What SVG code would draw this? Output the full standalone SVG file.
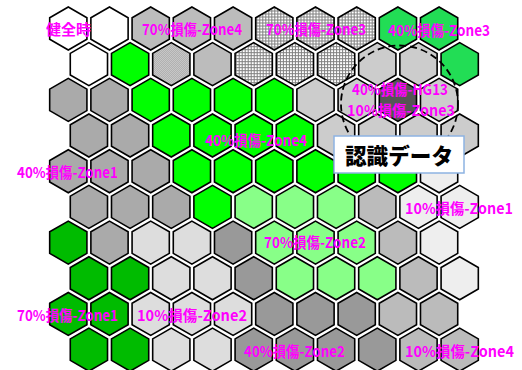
<svg xmlns="http://www.w3.org/2000/svg" xmlns:xlink="http://www.w3.org/1999/xlink" width="522" height="370" viewBox="0 0 522 370">
<style>
.h{stroke:#000;stroke-width:1.6;stroke-linejoin:miter}
.w{fill:#fff}.g{fill:#00ff00}.mg{fill:#22dd55}.dg{fill:#00bb00}.lg{fill:#88ff88}
.a{fill:#aaaaaa}.c{fill:#cccccc}.d{fill:#dddddd}.n{fill:#999999}.b{fill:#bbbbbb}.e{fill:#eeeeee}.k{fill:#555555}
.ck{fill:url(#chk)}.gr{fill:url(#grd)}
.lb{font-family:"Noto Sans CJK JP","DejaVu Sans",sans-serif;font-weight:bold;font-size:15px;fill:#ff00ff}
.big{font-family:"Noto Sans CJK JP","DejaVu Sans",sans-serif;font-weight:900;font-size:22px;fill:#000}
</style>
<defs>
<polygon id="hx" points="0,-21.5 18.62,-10.75 18.62,10.75 0,21.5 -18.62,10.75 -18.62,-10.75"/>
<pattern id="chk" width="2" height="2" patternUnits="userSpaceOnUse"><rect width="2" height="2" fill="#e8e8e8"/><rect width="1" height="1" fill="#909090"/><rect x="1" y="1" width="1" height="1" fill="#909090"/></pattern>
<pattern id="grd" width="3" height="3" patternUnits="userSpaceOnUse"><rect width="3" height="3" fill="#ffffff"/><path d="M0 0.5H3M0.5 0V3" stroke="#808080" stroke-width="1"/></pattern>
</defs>
<rect width="522" height="370" fill="#fff"/>
<g id="hexes">
<g id="row0">
<use href="#hx" x="68.3" y="28.5" class="h w"/><use href="#hx" x="109.5" y="28.5" class="h w"/><use href="#hx" x="150.7" y="28.5" class="h ck"/><use href="#hx" x="191.9" y="28.5" class="h ck"/><use href="#hx" x="233.1" y="28.5" class="h ck"/><use href="#hx" x="274.3" y="28.5" class="h gr"/><use href="#hx" x="315.5" y="28.5" class="h gr"/><use href="#hx" x="356.7" y="28.5" class="h gr"/><use href="#hx" x="397.9" y="28.5" class="h mg"/><use href="#hx" x="439.1" y="28.5" class="h mg"/>
</g>
<g id="row1">
<use href="#hx" x="88.9" y="64.18" class="h w"/><use href="#hx" x="130.1" y="64.18" class="h g"/><use href="#hx" x="171.3" y="64.18" class="h ck"/><use href="#hx" x="212.5" y="64.18" class="h ck"/><use href="#hx" x="253.7" y="64.18" class="h gr"/><use href="#hx" x="294.9" y="64.18" class="h gr"/><use href="#hx" x="336.1" y="64.18" class="h gr"/><use href="#hx" x="377.3" y="64.18" class="h c"/><use href="#hx" x="418.5" y="64.18" class="h c"/><use href="#hx" x="459.7" y="64.18" class="h mg"/>
</g>
<g id="row2">
<use href="#hx" x="68.3" y="99.86" class="h a"/><use href="#hx" x="109.5" y="99.86" class="h a"/><use href="#hx" x="150.7" y="99.86" class="h g"/><use href="#hx" x="191.9" y="99.86" class="h g"/><use href="#hx" x="233.1" y="99.86" class="h g"/><use href="#hx" x="274.3" y="99.86" class="h g"/><use href="#hx" x="315.5" y="99.86" class="h c"/><use href="#hx" x="356.7" y="99.86" class="h c"/><use href="#hx" x="397.9" y="99.86" class="h k"/><use href="#hx" x="439.1" y="99.86" class="h c"/>
</g>
<g id="row3">
<use href="#hx" x="88.9" y="135.54" class="h a"/><use href="#hx" x="130.1" y="135.54" class="h a"/><use href="#hx" x="171.3" y="135.54" class="h g"/><use href="#hx" x="212.5" y="135.54" class="h g"/><use href="#hx" x="253.7" y="135.54" class="h g"/><use href="#hx" x="294.9" y="135.54" class="h g"/><use href="#hx" x="336.1" y="135.54" class="h c"/><use href="#hx" x="377.3" y="135.54" class="h c"/><use href="#hx" x="418.5" y="135.54" class="h c"/><use href="#hx" x="459.7" y="135.54" class="h c"/>
</g>
<g id="row4">
<use href="#hx" x="68.3" y="171.22" class="h a"/><use href="#hx" x="109.5" y="171.22" class="h a"/><use href="#hx" x="150.7" y="171.22" class="h a"/><use href="#hx" x="191.9" y="171.22" class="h g"/><use href="#hx" x="233.1" y="171.22" class="h g"/><use href="#hx" x="274.3" y="171.22" class="h g"/><use href="#hx" x="315.5" y="171.22" class="h g"/><use href="#hx" x="356.7" y="171.22" class="h g"/><use href="#hx" x="397.9" y="171.22" class="h g"/><use href="#hx" x="439.1" y="171.22" class="h e"/>
</g>
<g id="row5">
<use href="#hx" x="88.9" y="206.9" class="h a"/><use href="#hx" x="130.1" y="206.9" class="h a"/><use href="#hx" x="171.3" y="206.9" class="h a"/><use href="#hx" x="212.5" y="206.9" class="h g"/><use href="#hx" x="253.7" y="206.9" class="h lg"/><use href="#hx" x="294.9" y="206.9" class="h lg"/><use href="#hx" x="336.1" y="206.9" class="h lg"/><use href="#hx" x="377.3" y="206.9" class="h b"/><use href="#hx" x="418.5" y="206.9" class="h e"/><use href="#hx" x="459.7" y="206.9" class="h e"/>
</g>
<g id="row6">
<use href="#hx" x="68.3" y="242.58" class="h dg"/><use href="#hx" x="109.5" y="242.58" class="h a"/><use href="#hx" x="150.7" y="242.58" class="h d"/><use href="#hx" x="191.9" y="242.58" class="h d"/><use href="#hx" x="233.1" y="242.58" class="h n"/><use href="#hx" x="274.3" y="242.58" class="h lg"/><use href="#hx" x="315.5" y="242.58" class="h lg"/><use href="#hx" x="356.7" y="242.58" class="h lg"/><use href="#hx" x="397.9" y="242.58" class="h b"/><use href="#hx" x="439.1" y="242.58" class="h e"/>
</g>
<g id="row7">
<use href="#hx" x="88.9" y="278.26" class="h dg"/><use href="#hx" x="130.1" y="278.26" class="h dg"/><use href="#hx" x="171.3" y="278.26" class="h d"/><use href="#hx" x="212.5" y="278.26" class="h d"/><use href="#hx" x="253.7" y="278.26" class="h n"/><use href="#hx" x="294.9" y="278.26" class="h lg"/><use href="#hx" x="336.1" y="278.26" class="h lg"/><use href="#hx" x="377.3" y="278.26" class="h lg"/><use href="#hx" x="418.5" y="278.26" class="h b"/><use href="#hx" x="459.7" y="278.26" class="h e"/>
</g>
<g id="row8">
<use href="#hx" x="68.3" y="313.94" class="h dg"/><use href="#hx" x="109.5" y="313.94" class="h dg"/><use href="#hx" x="150.7" y="313.94" class="h d"/><use href="#hx" x="191.9" y="313.94" class="h d"/><use href="#hx" x="233.1" y="313.94" class="h d"/><use href="#hx" x="274.3" y="313.94" class="h n"/><use href="#hx" x="315.5" y="313.94" class="h n"/><use href="#hx" x="356.7" y="313.94" class="h n"/><use href="#hx" x="397.9" y="313.94" class="h b"/><use href="#hx" x="439.1" y="313.94" class="h b"/>
</g>
<g id="row9">
<use href="#hx" x="88.9" y="349.62" class="h dg"/><use href="#hx" x="130.1" y="349.62" class="h dg"/><use href="#hx" x="171.3" y="349.62" class="h d"/><use href="#hx" x="212.5" y="349.62" class="h d"/><use href="#hx" x="253.7" y="349.62" class="h n"/><use href="#hx" x="294.9" y="349.62" class="h n"/><use href="#hx" x="336.1" y="349.62" class="h n"/><use href="#hx" x="377.3" y="349.62" class="h n"/><use href="#hx" x="418.5" y="349.62" class="h b"/><use href="#hx" x="459.7" y="349.62" class="h b"/>
</g>
</g>
<g id="highlight">
<circle cx="399.5" cy="104" r="58.5" fill="none" stroke="#000" stroke-width="1.8" stroke-dasharray="7,4"/>
</g>
<g id="labels">
<text class="lb" x="46" y="35" textLength="45" lengthAdjust="spacingAndGlyphs">健全時</text>
<text class="lb" x="142" y="34.5" textLength="100" lengthAdjust="spacingAndGlyphs">70%損傷-Zone4</text>
<text class="lb" x="266" y="34.5" textLength="100" lengthAdjust="spacingAndGlyphs">70%損傷-Zone3</text>
<text class="lb" x="388" y="35.5" textLength="102" lengthAdjust="spacingAndGlyphs">40%損傷-Zone3</text>
<text class="lb" x="352" y="94.5" textLength="96" lengthAdjust="spacingAndGlyphs">40%損傷-HG13</text>
<text class="lb" x="347" y="115.5" textLength="108" lengthAdjust="spacingAndGlyphs">10%損傷-Zone3</text>
<text class="lb" x="205" y="145.5" textLength="102" lengthAdjust="spacingAndGlyphs">40%損傷-Zone4</text>
<text class="lb" x="17" y="177.5" textLength="101" lengthAdjust="spacingAndGlyphs">40%損傷-Zone1</text>
<text class="lb" x="405" y="213.5" textLength="108" lengthAdjust="spacingAndGlyphs">10%損傷-Zone1</text>
<text class="lb" x="264" y="247.5" textLength="102" lengthAdjust="spacingAndGlyphs">70%損傷-Zone2</text>
<text class="lb" x="17" y="320.5" textLength="101" lengthAdjust="spacingAndGlyphs">70%損傷-Zone1</text>
<text class="lb" x="137" y="320.5" textLength="110" lengthAdjust="spacingAndGlyphs">10%損傷-Zone2</text>
<text class="lb" x="244" y="356.5" textLength="101" lengthAdjust="spacingAndGlyphs">40%損傷-Zone2</text>
<text class="lb" x="405" y="356.5" textLength="109" lengthAdjust="spacingAndGlyphs">10%損傷-Zone4</text>
</g>
<g id="callout">
<rect x="334" y="136" width="130" height="37" fill="#fff" stroke="#8db3e2" stroke-width="1.5"/>
<text class="big" x="345" y="164" textLength="108" lengthAdjust="spacingAndGlyphs">認識データ</text>
</g>
</svg>
